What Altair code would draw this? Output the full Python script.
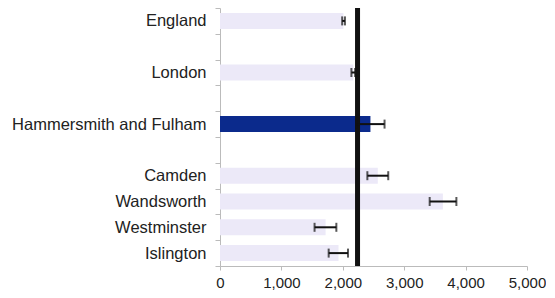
import altair as alt
import pandas as pd

categories = ["England", "London", "Hammersmith and Fulham", "Camden", "Wandsworth", "Westminster", "Islington"]
values = [2010, 2170, 2450, 2570, 3630, 1720, 1930]
lower = [1990, 2140, 2220, 2400, 3415, 1540, 1770]
upper = [2035, 2200, 2680, 2740, 3850, 1895, 2085]
highlight = [False, False, True, False, False, False, False]
slot_order = ["England", " ", "London", "  ", "Hammersmith and Fulham", "   ", "Camden", "Wandsworth", "Westminster", "Islington"]
reference_value = 2240
x_ticks = [0, 1000, 2000, 3000, 4000, 5000]

df = pd.DataFrame({"area": categories, "value": values, "lo": lower, "hi": upper, "hl": highlight})

FONT = "Liberation Sans"
FS = 16.5

y_enc = alt.Y("area:N", sort=slot_order,
              scale=alt.Scale(domain=slot_order, paddingInner=0, paddingOuter=0),
              axis=alt.Axis(title=None, tickBand="extent", labelFont=FONT, labelFontSize=FS,
                            labelColor="#222", labelPadding=9, tickSize=5, tickColor="#bbb",
                            domainColor="#bbb", labelLimit=300))
x_scale = alt.Scale(domain=[0, 5000], nice=False)
x_axis = alt.Axis(title=None, values=x_ticks, labelExpr="format(datum.value, ',')", grid=False, labelFont=FONT,
                  labelFontSize=15, labelColor="#222", tickSize=4, tickColor="#bbb",
                  domainColor="#bbb", labelPadding=5, labelOverlap=False, labelFlush=False)

bars = alt.Chart(df).mark_bar(size=16).encode(
    x=alt.X("value:Q", scale=x_scale, axis=x_axis),
    y=y_enc,
    color=alt.Color("hl:N", scale=alt.Scale(domain=[False, True], range=["#ece9f8", "#0b2a8c"]), legend=None),
)

ref = alt.Chart(pd.DataFrame({"ref": [reference_value]})).mark_rule(color="#111", strokeWidth=5).encode(
    x=alt.X("ref:Q", scale=x_scale, axis=x_axis)
)

err = alt.Chart(df).mark_rule(color="#111", strokeWidth=2).encode(
    x=alt.X("lo:Q", scale=x_scale, axis=x_axis), x2="hi:Q", y=y_enc
)
cap_lo = alt.Chart(df).mark_tick(color="#111", size=9, thickness=2).encode(
    x=alt.X("lo:Q", scale=x_scale, axis=x_axis), y=y_enc
)
cap_hi = alt.Chart(df).mark_tick(color="#111", size=9, thickness=2).encode(
    x=alt.X("hi:Q", scale=x_scale, axis=x_axis), y=y_enc
)

chart = alt.layer(bars, ref, err, cap_lo, cap_hi).properties(
    width=307, height=258,
    padding={"left": 3, "top": -8, "right": 0, "bottom": 5},
    background="white",
).configure_view(stroke=None)

chart.save("out.html", embed_options={"renderer": "svg", "actions": False})
